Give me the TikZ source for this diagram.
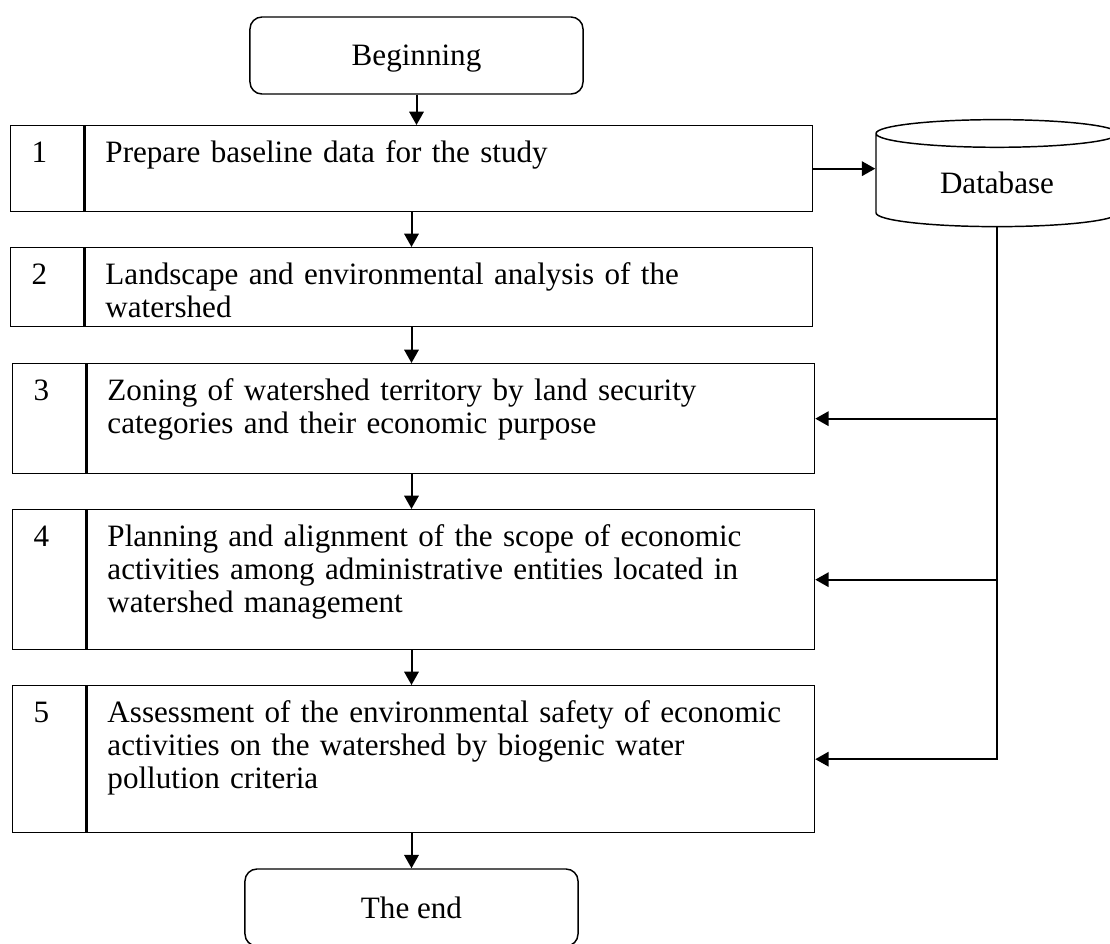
\documentclass[tikz,border=0pt]{standalone}
\usepackage{fontspec}
\setmainfont{Liberation Serif}
\usetikzlibrary{shapes.geometric,arrows.meta,positioning}

\begin{document}
\begin{tikzpicture}[
  x=0.3762pt, y=-0.3762pt, >={Triangle[length=5pt,width=5.4pt]}, line width=0.75pt,
  term/.style={draw, line width=0.55pt, rounded corners=4.5pt, minimum width=125.3pt, minimum height=28.97pt, text depth=0pt, font=\fontsize{11.7}{12.3}\selectfont},
  numcell/.style={draw, line width=0.5pt, anchor=north west, align=left, text width=11.85pt, inner xsep=7.9pt, inner ysep=0pt, text height=13.92pt, font=\fontsize{11.7}{12.3}\selectfont},
  stepcell/.style={draw, line width=0.5pt, anchor=north west, align=left, text width=258.5pt, inner xsep=7.52pt, inner ysep=0pt, text height=13.92pt, font=\fontsize{11.7}{12.3}\selectfont},
  store/.style={draw, line width=0.55pt, cylinder, shape border rotate=90, aspect=0.21, minimum width=91.04pt, minimum height=40.25pt, font=\fontsize{11.7}{12.3}\selectfont},
]
\clip (0,0) rectangle (1110,943);
\node[term] (begin) at (416.5,55.5) {Beginning};
\node[numcell, text depth=18.43pt] (n1) at (10,125) {1};
\node[stepcell, text depth=18.43pt] (s1) at (n1.north east) {Prepare baseline data for the study};
\node[numcell, text depth=15.8pt] (n2) at (10,247) {2};
\node[stepcell, text depth=15.8pt] (s2) at (n2.north east) {Landscape and environmental analysis of the\\watershed};
\node[numcell, text depth=27.46pt] (n3) at (12,363) {3};
\node[stepcell, text depth=27.46pt] (s3) at (n3.north east) {Zoning of watershed territory by land security\\categories and their economic purpose};
\node[numcell, text depth=38.75pt] (n4) at (12,509) {4};
\node[stepcell, text depth=38.75pt] (s4) at (n4.north east) {Planning and alignment of the scope of economic\\activities among administrative entities located in\\watershed management};
\node[numcell, text depth=41.38pt] (n5) at (12,685) {5};
\node[stepcell, text depth=41.38pt] (s5) at (n5.north east) {Assessment of the environmental safety of economic\\activities on the watershed by biogenic water\\pollution criteria};
\node[term] (end) at (411.5,907.5) {The end};
\node[store] (db) at (997,183) {Database};

\draw[->] (begin.south) -- (begin.south |- s1.north);
\draw[->] (s1.south -| end.north) -- (s2.north -| end.north);
\draw[->] (s2.south -| end.north) -- (s3.north -| end.north);
\draw[->] (s3.south -| end.north) -- (s4.north -| end.north);
\draw[->] (s4.south -| end.north) -- (s5.north -| end.north);
\draw[->] (s5.south -| end.north) -- (end.north);
\draw[->] (s1.east) -- (s1.east -| db.west);
\draw[->] (db.south) |- (s5.east);
\draw[->] (db.south |- s3.east) -- (s3.east);
\draw[->] (db.south |- s4.east) -- (s4.east);
\end{tikzpicture}
\end{document}
